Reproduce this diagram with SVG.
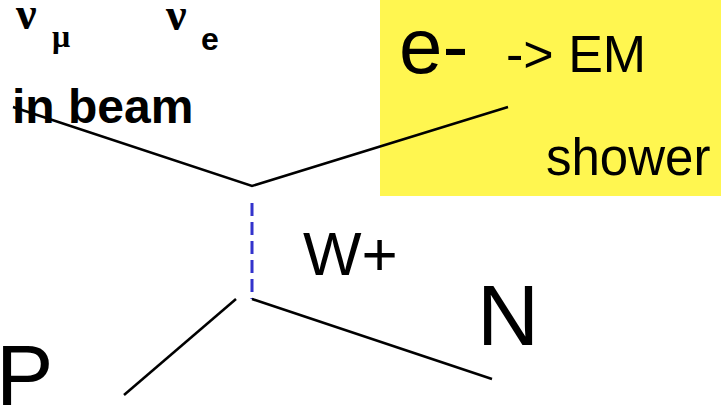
<svg xmlns="http://www.w3.org/2000/svg" width="721" height="407" viewBox="0 0 721 407">
<style>
text{font-family:"Liberation Sans",Arial,sans-serif;fill:#000}
.g{font-family:"Liberation Serif","Times New Roman",serif;font-weight:bold}
.b{font-weight:bold}
.ln{stroke:#000;stroke-width:2.5;fill:none}
</style>
<rect x="0" y="0" width="721" height="407" fill="#fff"/>
<g id="shower-box">
<rect x="380" y="0" width="341" height="196" fill="#fff650"/>
</g>
<g id="connectors">
<polyline class="ln" points="13,107 252,186 508,107"/>
<line x1="252" y1="203" x2="252" y2="299" stroke="#3333cc" stroke-width="3" stroke-dasharray="13,6"/>
<line class="ln" x1="252" y1="299" x2="492" y2="379"/>
<line class="ln" x1="236" y1="299" x2="124" y2="395"/>
</g>
<g id="labels">
<text class="g" x="16" y="29" font-size="46">ν</text>
<text class="g" x="52" y="47" font-size="32">μ</text>
<text class="g" x="166" y="30" font-size="46">ν</text>
<text class="b" x="201" y="50" font-size="32">e</text>
<text class="b" x="12" y="123" font-size="48">in beam</text>
<text x="399" y="73" font-size="78">e-</text>
<text x="506" y="72" font-size="52">-&gt; EM</text>
<text x="546" y="175" font-size="51">shower</text>
<text x="303" y="275" font-size="62">W+</text>
<text x="477" y="345" font-size="86">N</text>
<text x="-4" y="405" font-size="86">P</text>
</g>
</svg>
